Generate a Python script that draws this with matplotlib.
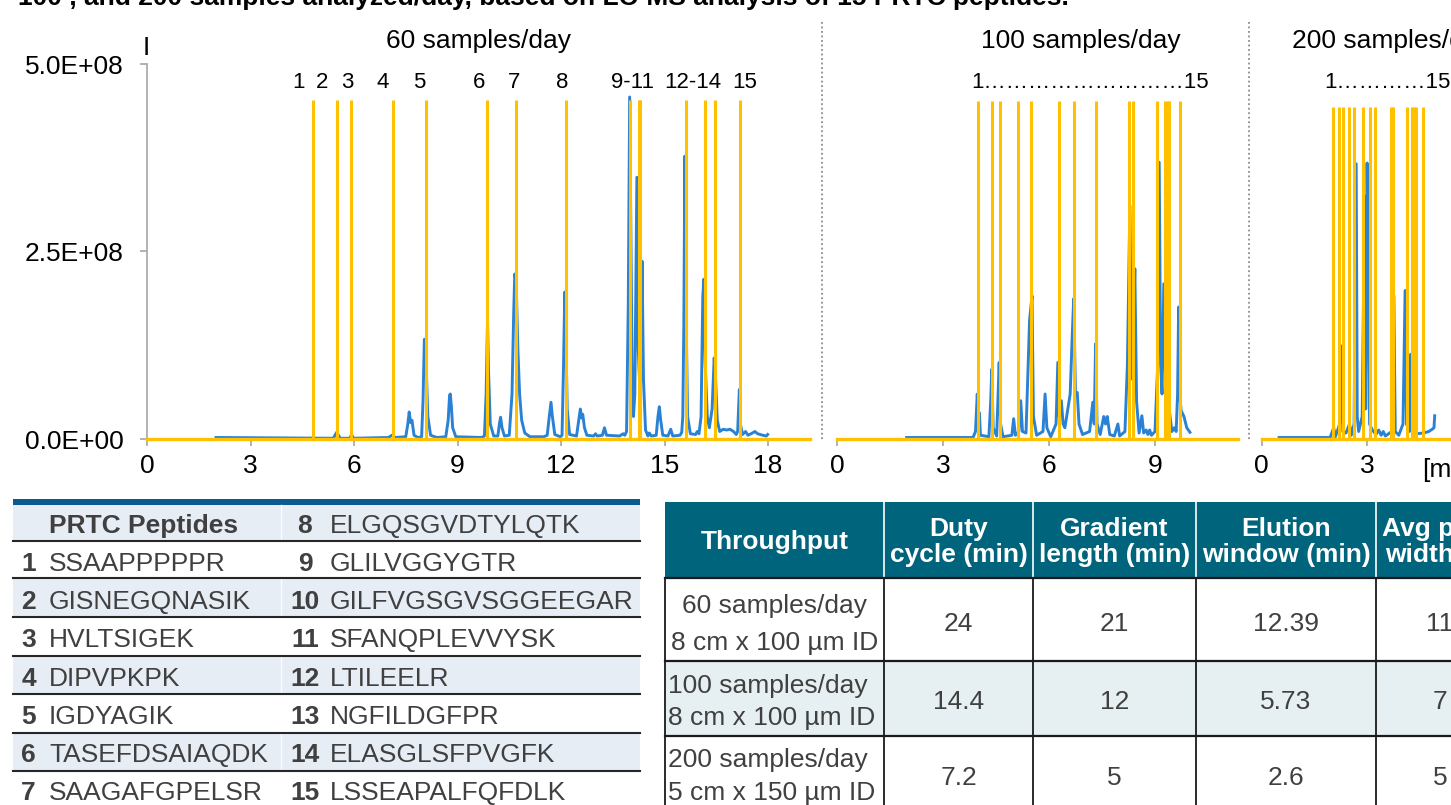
import matplotlib.pyplot as plt
from matplotlib.patches import Rectangle

plt.rcParams['font.family'] = ['Liberation Sans', 'DejaVu Sans']

# blue chromatograms: (time min, intensity in 1E+08)
trace_60 = [
    (2.0, 0.02), (5.4, 0.01), (5.5, 0.09), (5.6, 0.01), (5.88, 0.01), (5.93, 0.06), (5.98, 0.01),
    (7.0, 0.02), (7.1, 0.05), (7.2, 0.02),
    (7.5, 0.03), (7.56, 0.2), (7.6, 0.36), (7.64, 0.22), (7.68, 0.25), (7.74, 0.05), (7.85, 0.02),
    (7.96, 0.03), (8.0, 0.5), (8.04, 1.33), (8.07, 0.9), (8.1, 0.87), (8.14, 0.3), (8.22, 0.05), (8.4, 0.02),
    (8.66, 0.03), (8.73, 0.25), (8.77, 0.58), (8.79, 0.6), (8.82, 0.45), (8.86, 0.15), (8.95, 0.03), (9.7, 0.02),
    (9.78, 0.04), (9.83, 0.6), (9.87, 1.57), (9.9, 0.9), (9.95, 0.2), (10.05, 0.04),
    (10.17, 0.04), (10.22, 0.22), (10.25, 0.29), (10.29, 0.15), (10.36, 0.04),
    (10.5, 0.05), (10.58, 0.6), (10.63, 1.7), (10.66, 2.2), (10.7, 2.1), (10.75, 1.2), (10.8, 0.6),
    (10.86, 0.25), (10.95, 0.08), (11.1, 0.03), (11.5, 0.03),
    (11.6, 0.05), (11.66, 0.3), (11.71, 0.49), (11.75, 0.3), (11.82, 0.06), (11.98, 0.03),
    (12.03, 0.05), (12.07, 0.9), (12.11, 1.96), (12.14, 1.4), (12.18, 0.4), (12.25, 0.06), (12.45, 0.04),
    (12.5, 0.2), (12.56, 0.4), (12.6, 0.28), (12.63, 0.33), (12.68, 0.15), (12.75, 0.05),
    (12.95, 0.04), (13.0, 0.07), (13.05, 0.04), (13.2, 0.05), (13.26, 0.15), (13.32, 0.05),
    (13.7, 0.04), (13.8, 0.07), (13.85, 0.05),
    (13.9, 0.1), (13.95, 1.8), (13.99, 4.56), (14.02, 3.0), (14.06, 1.0), (14.1, 0.3), (14.14, 0.6),
    (14.2, 3.49), (14.24, 1.2), (14.3, 0.5), (14.35, 2.37), (14.39, 0.8), (14.45, 0.12),
    (14.52, 0.04), (14.56, 0.08), (14.62, 0.04),
    (14.76, 0.05), (14.81, 0.3), (14.85, 0.43), (14.89, 0.25), (14.95, 0.05), (15.1, 0.04),
    (15.18, 0.13), (15.24, 0.04), (15.45, 0.05), (15.5, 0.09),
    (15.53, 0.3), (15.56, 1.5), (15.59, 3.77), (15.62, 1.8), (15.67, 0.3), (15.75, 0.07),
    (15.9, 0.06), (15.95, 0.1), (16.0, 0.07),
    (16.06, 0.3), (16.11, 1.9), (16.14, 2.13), (16.18, 1.0), (16.24, 0.3), (16.3, 0.15),
    (16.38, 0.4), (16.44, 1.08), (16.48, 0.8), (16.53, 0.25), (16.6, 0.1),
    (16.7, 0.13), (16.8, 0.12), (16.9, 0.13), (17.0, 0.1), (17.08, 0.06),
    (17.12, 0.1), (17.15, 0.45), (17.17, 0.66), (17.2, 0.2), (17.26, 0.06), (17.35, 0.1),
    (17.42, 0.05), (17.55, 0.08), (17.62, 0.1), (17.7, 0.07), (17.85, 0.05), (17.95, 0.04), (17.99, 0.06),
]
trace_100 = [
    (1.97, 0.02), (3.85, 0.02), (3.92, 0.1), (3.97, 0.6), (4.0, 0.25), (4.03, 0.35), (4.06, 0.05),
    (4.3, 0.03), (4.35, 0.5), (4.38, 0.93), (4.42, 0.15), (4.52, 0.04), (4.56, 0.6), (4.59, 1.02),
    (4.63, 0.2), (4.7, 0.03), (4.95, 0.05), (5.0, 0.27), (5.05, 0.05), (5.15, 0.1), (5.2, 0.51),
    (5.25, 0.1), (5.35, 0.08), (5.45, 1.58), (5.52, 1.91), (5.56, 0.3), (5.65, 0.05), (5.83, 0.1),
    (5.89, 0.6), (5.94, 0.15), (6.05, 0.03), (6.2, 0.2), (6.25, 1.02), (6.29, 0.3), (6.35, 0.51),
    (6.4, 0.2), (6.45, 0.15), (6.5, 0.3), (6.6, 0.6), (6.66, 1.4), (6.7, 1.87), (6.75, 0.6),
    (6.8, 0.62), (6.85, 0.2), (6.95, 0.06), (7.15, 0.1), (7.24, 0.49), (7.28, 0.2), (7.32, 1.27),
    (7.36, 0.2), (7.45, 0.06), (7.55, 0.3), (7.6, 0.2), (7.65, 0.3), (7.72, 0.06), (7.85, 0.04),
    (7.95, 0.2), (8.0, 0.04), (8.15, 0.1), (8.22, 1.0), (8.29, 3.11), (8.34, 0.8), (8.39, 1.4),
    (8.43, 2.27), (8.48, 0.5), (8.55, 0.08), (8.63, 0.31), (8.68, 0.08), (8.75, 0.12), (8.8, 0.06),
    (8.85, 0.12), (8.9, 0.05), (9.0, 0.1), (9.07, 0.9), (9.12, 3.69), (9.16, 1.0), (9.2, 0.6),
    (9.25, 2.07), (9.3, 0.8), (9.35, 1.5), (9.4, 0.4), (9.48, 0.1), (9.55, 0.15), (9.6, 0.1),
    (9.64, 0.6), (9.67, 1.76), (9.7, 0.6), (9.74, 0.38), (9.82, 0.3), (9.9, 0.15), (9.99, 0.09),
]
trace_200 = [
    (0.5, 0.02), (1.95, 0.02), (2.05, 0.15), (2.1, 0.03), (2.22, 0.2), (2.27, 1.24), (2.31, 0.1),
    (2.4, 0.08), (2.5, 0.2), (2.55, 0.05), (2.63, 0.2), (2.69, 3.67), (2.72, 0.3), (2.76, 0.1),
    (2.86, 0.3), (2.93, 3.24), (2.96, 0.4), (3.0, 3.68), (3.03, 2.2), (3.07, 0.2), (3.15, 0.12),
    (3.25, 0.06), (3.33, 0.12), (3.4, 0.05), (3.46, 0.1), (3.52, 0.04), (3.7, 0.1), (3.76, 1.91),
    (3.8, 0.1), (3.9, 0.05), (4.02, 0.2), (4.08, 1.98), (4.12, 0.2), (4.2, 0.1), (4.24, 1.13),
    (4.28, 0.1), (4.4, 0.07), (4.6, 0.08), (4.75, 0.1), (4.85, 0.13), (4.9, 0.15), (4.92, 0.31),
]

# yellow marker lines (time min), height in 1E+08
marks_60 = [4.82, 5.52, 5.91, 7.14, 8.09, 9.86, 10.70, 12.14, 13.99, 14.26, 14.30, 15.63, 16.18, 16.46, 17.20]
marks_100 = [3.99, 4.39, 4.60, 5.11, 5.50, 6.29, 6.71, 7.32, 8.27, 8.39, 9.07, 9.29, 9.35, 9.40, 9.71]
marks_200 = [2.03, 2.20, 2.31, 2.48, 2.64, 2.87, 3.07, 3.23, 3.68, 3.73, 4.13, 4.28, 4.33, 4.38, 4.59]
mark_height = [4.52, 4.50, 4.42]

panel_titles = ['60 samples/day', '100 samples/day', '200 samples/day']
peak_labels = ['1', '2', '3', '4', '5', '6', '7', '8', '9-11', '12-14', '15']
ytick_vals = [0, 2.5e8, 5e8]
ytick_text = ['0.0E+00', '2.5E+08', '5.0E+08']

pep_ids = [str(k) for k in range(1, 16)]
peptides = ['SSAAPPPPPR', 'GISNEGQNASIK', 'HVLTSIGEK', 'DIPVPKPK', 'IGDYAGIK', 'TASEFDSAIAQDK',
            'SAAGAFGPELSR', 'ELGQSGVDTYLQTK', 'GLILVGGYGTR', 'GILFVGSGVSGGEEGAR', 'SFANQPLEVVYSK',
            'LTILEELR', 'NGFILDGFPR', 'ELASGLSFPVGFK', 'LSSEAPALFQFDLK']

tbl_headers = ['Throughput', 'Duty\ncycle (min)', 'Gradient\nlength (min)', 'Elution\nwindow (min)',
               'Avg peak\nwidth (s)']
throughput = ['60 samples/day', '100 samples/day', '200 samples/day']
column_ids = ['8 cm x 100 µm ID', '8 cm x 100 µm ID', '5 cm x 150 µm ID']
duty_cycle = ['24', '14.4', '7.2']
gradient_len = ['21', '12', '5']
elution_win = ['12.39', '5.73', '2.6']
peak_width = ['11', '7', '5']

W, H = 1451, 805
BLUE = '#2a82d4'
GOLD = '#ffc000'
GRAY = '#a6a6a6'
TXT = '#404040'
TEAL = '#00647c'

fig = plt.figure(figsize=(W / 100, H / 100), dpi=100)

# overlay axes in pixel coordinates for texts and tables
ov = fig.add_axes([0, 0, 1, 1])
ov.set_xlim(0, W)
ov.set_ylim(H, 0)
ov.axis('off')

Y_TOP, Y_BASE = 64, 439
panels = [
    (147, 810, 34.5, trace_60, marks_60, [0, 3, 6, 9, 12, 15, 18]),
    (837, 1238, 35.33, trace_100, marks_100, [0, 3, 6, 9]),
    (1261.5, 1500, 35.2, trace_200, marks_200, [0, 3]),
]
for k, (x0, x1, ppm, trace, marks, xt) in enumerate(panels):
    ax = fig.add_axes([x0 / W, 1 - Y_BASE / H, (x1 - x0) / W, (Y_BASE - Y_TOP) / H])
    ax.set_xlim(0, (x1 - x0) / ppm)
    ax.set_ylim(0, 5e8)
    t = [p[0] for p in trace]
    v = [p[1] * 1e8 for p in trace]
    ax.plot(t, v, color=BLUE, lw=2.1, zorder=2, solid_joinstyle='round')
    ax.vlines(marks, 0, mark_height[k] * 1e8, color=GOLD, lw=2.2, zorder=3)
    ax.axhline(0, color=GOLD, lw=2.4, zorder=3, clip_on=False)
    for s in ['top', 'right']:
        ax.spines[s].set_visible(False)
    ax.spines['bottom'].set_color(GRAY)
    ax.spines['bottom'].set_linewidth(1.2)
    ax.set_xticks(xt)
    ax.tick_params(axis='x', length=5, width=1.2, color=GRAY, labelsize=19, pad=6)
    if k == 0:
        ax.spines['left'].set_color(GRAY)
        ax.spines['left'].set_linewidth(1.2)
        ax.set_yticks(ytick_vals)
        ax.set_yticklabels(ytick_text)
        ax.tick_params(axis='y', length=5, width=1.2, color=GRAY, labelsize=19, pad=12)
    else:
        ax.spines['left'].set_visible(False)
        ax.set_yticks([])
    ax.patch.set_alpha(0)

# top line of caption (cut by the image border)
ov.text(18, 5, '100 , and 200 samples analyzed/day, based on LC-MS analysis of 15 PRTC peptides.',
        fontsize=19, fontweight='bold', ha='left', va='baseline')

# panel titles and labels
ov.text(479, 41, panel_titles[0], fontsize=19, ha='center', va='center')
ov.text(1081, 41, panel_titles[1], fontsize=19, ha='center', va='center')
ov.text(1292, 41, panel_titles[2], fontsize=19, ha='left', va='center')
ov.text(146, 48, 'I', fontsize=19, ha='center', va='center')
ov.text(1422, 470, '[min]', fontsize=19, ha='left', va='center')

for lab, x in zip(peak_labels, [298, 322, 347, 383, 419, 479, 514, 562, 633, 693, 745]):
    ov.text(x, 82, lab, fontsize=16, ha='center', va='center')
ov.text(971, 82, '1' + '\u2026' * 9 + '15', fontsize=16, ha='left', va='center')
ov.text(1324, 82, '1' + '\u2026' * 4 + '15', fontsize=16, ha='left', va='center')

# dotted separators
for x in [822, 1249]:
    ov.plot([x, x], [22, 440], ls=(0, (1, 1.5)), color='#8c8c8c', lw=1.3)

# left table: PRTC peptides
bounds = [505, 541, 578, 617, 656, 694, 733, 771, 812]
ov.add_patch(Rectangle((13, 499), 627, 6, color='#0d5a92', lw=0))
for r in range(8):
    if r % 2 == 0:
        ov.add_patch(Rectangle((13, bounds[r]), 627, bounds[r + 1] - bounds[r], color='#e7edf5', lw=0))
        ov.plot([281, 281], [bounds[r], bounds[r + 1]], color='#fbfcfe', lw=1)
for b in bounds[1:-1]:
    ov.plot([13, 640], [b, b], color='#262626', lw=1.5)

fs = 19
cap = 9.5
ov.text(49, 523 + cap, 'PRTC Peptides', fontsize=fs, fontweight='bold', color=TXT, ha='left', va='baseline')
row_c = [523, 561, 599, 637, 676, 714, 752, 790]
for r in range(7):
    y = row_c[r + 1] + cap
    ov.text(28.5, y, pep_ids[r], fontsize=fs, fontweight='bold', color=TXT, ha='center', va='baseline')
    ov.text(49, y, peptides[r], fontsize=fs, color=TXT, ha='left', va='baseline')
for r in range(8):
    y = row_c[r] + cap
    ov.text(305, y, pep_ids[r + 7], fontsize=fs, fontweight='bold', color=TXT, ha='center', va='baseline')
    ov.text(330, y, peptides[r + 7], fontsize=fs, color=TXT, ha='left', va='baseline')

# right table: throughput parameters
col_x = [665, 884, 1033, 1196, 1376, 1504]
col_c = [774.5, 958.5, 1114.5, 1286, 1440]
ov.add_patch(Rectangle((665, 502), 900, 76, color=TEAL, lw=0))
ov.add_patch(Rectangle((665, 661), 900, 75, color='#e6eff1', lw=0))
for x in col_x[1:5]:
    ov.plot([x, x], [502, 578], color='white', lw=1.2)
for x in col_x[:5]:
    ov.plot([x, x], [578, 812], color='#1a1a1a', lw=1.3)
for y in [578, 661, 736]:
    ov.plot([665, 1460], [y, y], color='#1a1a1a', lw=1.6)

for c, h in zip(col_c, tbl_headers):
    ov.text(c, 542, h, fontsize=fs, fontweight='bold', color='white', ha='center', va='center',
            linespacing=1.15)

val_y = [621, 699, 775]
ov.text(774.5, 603 + cap, throughput[0], fontsize=fs, color=TXT, ha='center', va='baseline')
ov.text(774.5, 640 + cap, column_ids[0], fontsize=fs, color=TXT, ha='center', va='baseline')
ov.text(668, 683 + cap, throughput[1], fontsize=fs, color=TXT, ha='left', va='baseline')
ov.text(668, 715 + cap, column_ids[1], fontsize=fs, color=TXT, ha='left', va='baseline')
ov.text(668, 757 + cap, throughput[2], fontsize=fs, color=TXT, ha='left', va='baseline')
ov.text(668, 790 + cap, column_ids[2], fontsize=fs, color=TXT, ha='left', va='baseline')
for r in range(3):
    for c, col in zip(col_c[1:], [duty_cycle, gradient_len, elution_win, peak_width]):
        ov.text(c, val_y[r] + cap, col[r], fontsize=fs, color=TXT, ha='center', va='baseline')

fig.savefig('out.png', dpi=100)
